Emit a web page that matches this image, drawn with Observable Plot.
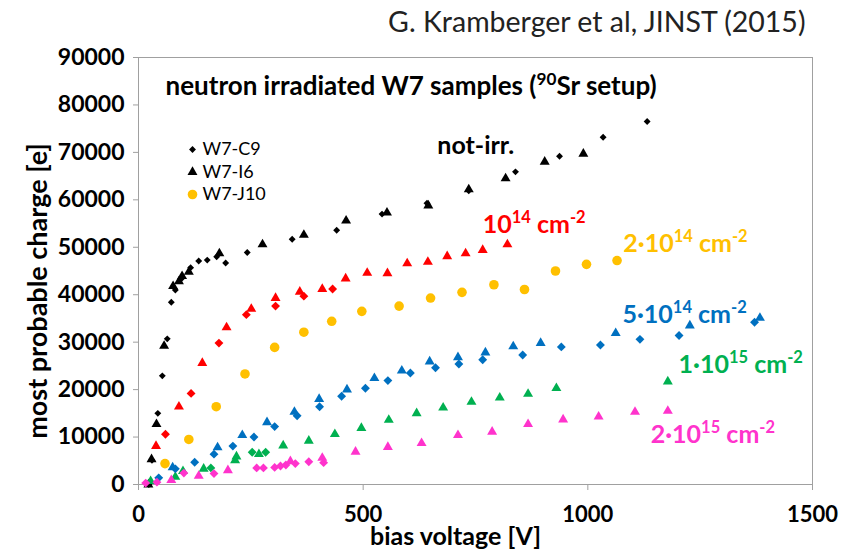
<!DOCTYPE html>
<html><head><meta charset="utf-8">
<script src="https://cdn.jsdelivr.net/npm/d3@7"></script>
<script src="https://cdn.jsdelivr.net/npm/@observablehq/plot@0.6"></script>
<style>
body{margin:0;background:#fff;}
#chart svg{display:block;}
#chart svg g[aria-label="x-axis tick"] path,#chart svg g[aria-label="y-axis tick"] path{stroke:#a0a0a0;}
</style></head><body><div id="chart"></div><script>
// ---- data: [bias voltage V, most probable charge e] ----
const C9_notIrr = [[23,0],[30,5100],[43,15000],[53,22900],[64,30700],[73,38400],[82,41000],[95,43300],[116,45700],[134,47100],[153,47300],[174,48000],[194,46700],[242,48900],[342,51700],[441,53600],[542,57000],[642,59300],[735,61900],[839,65900],[937,69200],[1034,73200],[1132,76500]];
const I6_notIrr = [[22,0],[29,5300],[40,12700],[57,29200],[77,41800],[90,42800],[97,43900],[112,44800],[180,48700],[276,50600],[368,52600],[462,55600],[553,57300],[645,58800],[735,62200],[817,64500],[904,68000],[990,69700]];
const C9_1e14 = [[60,10600],[117,19200],[179,29800],[240,35800],[305,37600],[368,39700],[432,41200]];
const I6_1e14 = [[39,8100],[90,16400],[142,25600],[196,33100],[251,37000],[305,39300],[359,40600],[409,41200],[461,43400],[509,44600],[554,44500],[598,46600],[644,46900],[687,48100],[728,48700],[766,49400],[821,50600]];
const J10_2e14 = [[59,4400],[112,9500],[173,16400],[237,23300],[303,28900],[368,32100],[430,34400],[497,36500],[580,37600],[650,39300],[720,40500],[791,42100],[859,41100],[928,45000],[997,46400],[1065,47200]];
const C9_5e14 = [[45,1400],[82,3300],[125,4700],[168,6400],[210,8100],[257,10000],[303,12200],[353,14500],[403,16400],[452,18600],[505,20300],[555,21900],[605,23500],[661,24600],[713,25400],[766,26300],[855,27300],[941,29000],[1028,29400],[1116,30600],[1203,31400],[1371,34200]];
const I6_5e14 = [[76,3600],[176,7800],[231,10400],[286,13100],[347,15300],[402,18000],[464,20000],[525,22400],[586,24000],[648,25900],[711,26800],[772,27800],[834,29100],[895,29800],[1062,31900],[1227,33500],[1383,35100]];
const C9_1e15 = [[161,3500],[253,6800],[283,6800]];
const I6_1e15 = [[27,700],[82,1600],[99,2800],[145,3300],[215,5100],[218,5900],[268,6400],[322,8200],[379,9200],[437,10600],[496,11900],[557,13600],[619,15000],[678,16200],[741,17400],[804,18300],[867,19100],[930,20300],[1178,21700]];
const C9_2e15 = [[16,300],[41,500],[101,2400],[168,2300],[263,3500],[278,3500],[303,3600],[316,3900],[328,4100],[349,4400],[379,4800],[412,4600]];
const I6_2e15 = [[73,900],[134,1800],[199,3000],[338,4900],[409,5600],[483,6900],[555,7900],[630,8700],[711,10400],[787,11100],[867,12700],[945,13700],[1024,14300],[1105,15300],[1178,15500]];

const fluences = ["not-irr.","1e14","2e14","5e14","1e15","2e15"];
const fluenceColors = ["#000000","#ff0000","#ffc000","#0070c0","#00b050","#ff33cc"];
const samples = ["W7-C9","W7-I6","W7-J10"];
const sampleSymbols = ["diamond2","triangle","circle"];

// fluence annotations: [text, x (V), y (e), fluence]
const labels = [
  ["not-irr.", 665, 71400, "not-irr."],
  ["10^{14} cm^{-2}", 766, 54600, "1e14"],
  ["2·10^{14} cm^{-2}", 1079, 50600, "2e14"],
  ["5·10^{14} cm^{-2}", 1077, 35800, "5e14"],
  ["1·10^{15} cm^{-2}", 1202, 25200, "1e15"],
  ["2·10^{15} cm^{-2}", 1140, 10400, "2e15"]
];
const xTicks = [0,500,1000,1500];
const yTicks = [0,10000,20000,30000,40000,50000,60000,70000,80000,90000];
const titleText = "neutron irradiated W7 samples (^{90}Sr setup)";
const captionText = "G. Kramberger et al, JINST (2015)";
const xLabel = "bias voltage [V]";
const yLabel = "most probable charge [e]";

const series = [
  ["W7-C9","not-irr.",C9_notIrr],["W7-I6","not-irr.",I6_notIrr],
  ["W7-C9","1e14",C9_1e14],["W7-I6","1e14",I6_1e14],
  ["W7-J10","2e14",J10_2e14],
  ["W7-C9","5e14",C9_5e14],["W7-I6","5e14",I6_5e14],
  ["W7-C9","1e15",C9_1e15],["W7-I6","1e15",I6_1e15],
  ["W7-C9","2e15",C9_2e15],["W7-I6","2e15",I6_2e15]
];
const rows = series.flatMap(([sample, fluence, pts]) => pts.map(([v,q]) => ({sample, fluence, v, q})));
const FONT = "Lato, 'Open Sans', sans-serif";

const bySym = (s, f) => rows.filter(d => d.sample === s && (f ? f(d) : true));

const plot = Plot.plot({
  width: 845, height: 552,
  marginLeft: 138, marginRight: 33, marginTop: 57, marginBottom: 68,
  style: {fontFamily: FONT, background: "white", color: "black"},
  x: {domain: [0,1500]},
  y: {domain: [0,90000]},
  color: {domain: fluences, range: fluenceColors},
  symbol: {domain: samples, range: sampleSymbols},
  marks: [
    Plot.frame({stroke: "#a0a0a0"}),
    Plot.axisX({ticks: xTicks, tickSize: 6, tickPadding: 16, fontSize: 22, fontWeight: "bold", label: null, tickFormat: d => String(d)}),
    Plot.axisY({ticks: yTicks, tickSize: 5, tickPadding: 9, fontSize: 23, fontWeight: "bold", label: null, tickFormat: d => String(d)}),
    Plot.dot(bySym("W7-C9", d => d.fluence === "not-irr."), {x: "v", y: "q", symbol: "sample", fill: "fluence", r: 3.1}),
    Plot.dot(bySym("W7-I6"), {x: "v", y: "q", symbol: "sample", fill: "fluence", r: 3.7}),
    Plot.dot(bySym("W7-C9", d => d.fluence !== "not-irr."), {x: "v", y: "q", symbol: "sample", fill: "fluence", r: 4.0}),
    Plot.dot(bySym("W7-J10"), {x: "v", y: "q", symbol: "sample", fill: "fluence", r: 4.8}),
    Plot.text(labels, {x: d => d[1], y: d => d[2], text: d => d[0], fill: d => d[3], textAnchor: "start", lineAnchor: "middle", fontSize: 25, fontWeight: "bold"}),
    Plot.text([titleText], {frameAnchor: "top-left", dx: 27, dy: 29, textAnchor: "start", lineAnchor: "middle", fontSize: 26, fontWeight: "bold"}),
    // legend
    ...samples.map((s, i) => Plot.dot([s], {frameAnchor: "top-left", dx: 54, dy: 92 + i*22.5, symbol: d => d, fill: i === 2 ? "#ffc000" : "black", r: i === 0 ? 3.1 : i === 1 ? 3.7 : 4.8})),
    ...samples.map((s, i) => Plot.text([s], {frameAnchor: "top-left", dx: 64, dy: 92 + i*22.5, textAnchor: "start", lineAnchor: "middle", fontSize: 18})),
    // caption & axis titles
    Plot.text([captionText], {frameAnchor: "top-right", dx: -7, dy: -35, textAnchor: "end", lineAnchor: "middle", fontSize: 28.5, fill: "#222"}),
    Plot.text([xLabel], {frameAnchor: "bottom", dx: -20, dy: 52, textAnchor: "middle", lineAnchor: "middle", fontSize: 25, fontWeight: "bold"}),
    Plot.text([yLabel], {frameAnchor: "left", dx: -100, dy: 20, rotate: -90, textAnchor: "middle", lineAnchor: "middle", fontSize: 27, fontWeight: "bold"})
  ]
});

// superscripts: turn "^{..}" into raised tspans
d3.select(plot).selectAll("text").each(function() {
  const t = this.textContent;
  if (!t.includes("^{")) return;
  const el = d3.select(this);
  el.text(null);
  const re = /\^\{([^}]*)\}/g;
  let last = 0, m;
  while ((m = re.exec(t))) {
    if (m.index > last) el.append("tspan").text(t.slice(last, m.index));
    el.append("tspan").attr("baseline-shift", "super").attr("font-size", "66%").text(m[1]);
    last = re.lastIndex;
  }
  if (last < t.length) el.append("tspan").text(t.slice(last));
});
document.getElementById("chart").appendChild(plot);
</script></body></html>
